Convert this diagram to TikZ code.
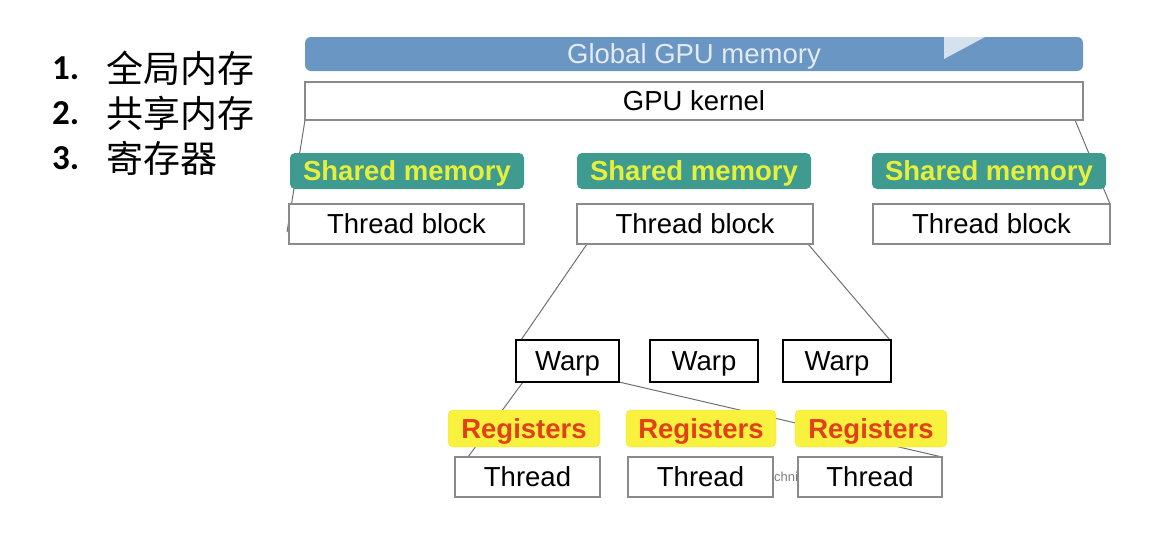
\documentclass[tikz,border=0pt]{standalone}
\usepackage{fontspec}
\setmainfont{Liberation Sans}
\newfontfamily\cjk{Noto Sans CJK SC}
\newfontfamily\numfont{Carlito}
\usetikzlibrary{calc}
\definecolor{globalblue}{HTML}{6A96C4}
\definecolor{globaltext}{HTML}{E4EAF2}
\definecolor{playtri}{HTML}{D6E1EE}
\definecolor{teal}{HTML}{3F9B8F}
\definecolor{smtext}{HTML}{E6F03C}
\definecolor{regfill}{HTML}{F8F23E}
\definecolor{regtext}{HTML}{E2401B}
\definecolor{boxgray}{HTML}{8A8A8A}
\definecolor{linegray}{HTML}{707070}
\tikzset{
  dtext/.style={font=\fontsize{27.5}{30}\selectfont, text height=19.7pt, text depth=0pt},
  plainbox/.style={draw=boxgray, line width=1.2pt, fill=white, inner sep=0pt, dtext, text=black},
  smbox/.style={fill=teal, rounded corners=5pt, inner sep=0pt, minimum width=234pt, minimum height=36pt, dtext, font=\fontsize{27.5}{30}\selectfont\bfseries, text=smtext},
  regbox/.style={fill=regfill, draw=regfill!85!orange, rounded corners=5pt, inner sep=0pt, minimum height=37pt, dtext, font=\fontsize{27.5}{30}\selectfont\bfseries, text=regtext},
  warpbox/.style={draw=black, line width=2.6pt, fill=white, inner sep=0pt, minimum height=42pt, dtext},
  tbbox/.style={plainbox, minimum height=40pt},
  thbox/.style={plainbox, minimum width=145pt, minimum height=40pt},
  conn/.style={draw=linegray, line width=1pt},
  listnum/.style={anchor=west, inner sep=0pt, font=\numfont\bfseries\fontsize{35}{36}\selectfont},
  listcjk/.style={anchor=west, inner sep=0pt, font=\cjk\fontsize{37}{40}\selectfont},
}
\begin{document}
\begin{tikzpicture}[x=1pt,y=-1pt]
\useasboundingbox (0,0) rectangle (1151,538);
% list
\node[listnum] (n1) at (52,68) {1.};
\node[listcjk] (c1) at (106,68) {全局内存};
\node[listnum] (n2) at (52,113) {2.};
\node[listcjk] (c2) at (106,113) {共享内存};
\node[listnum] (n3) at (52,158) {3.};
\node[listcjk] (c3) at (106,158) {寄存器};
% watermark fragment
\node[inner sep=0pt, text=gray, font=\rmfamily\fontsize{13}{14}\selectfont] (wm) at (786,477) {chni};
% coordinates for connector ends
\coordinate (kl) at (305,120);
\coordinate (kr) at (1075,120);
\coordinate (tbLend) at (287,232);
\coordinate (tbRend) at (1110,204);
\coordinate (tbMl) at (587,244);
\coordinate (tbMr) at (808,244);
\coordinate (w1l) at (521,340);
\coordinate (w3r) at (890,340);
\coordinate (w1bl) at (523,382);
\coordinate (w1br) at (619,382);
\coordinate (t1l) at (468,457);
\coordinate (t3r) at (942,457);
% connectors (behind boxes)
\draw[conn] (kl) -- (tbLend);
\draw[conn] (kr) -- (tbRend);
\draw[conn] (tbMl) -- (w1l);
\draw[conn] (tbMr) -- (w3r);
\draw[conn] (w1bl) -- (t1l);
\draw[conn] (w1br) -- (t3r);
% global memory and kernel
\node[fill=globalblue, rounded corners=6pt, minimum width=778pt, minimum height=34pt, inner sep=0pt, text=globaltext, dtext] (global) at (694,54) {Global GPU memory};
\fill[playtri] (944,37) -- (985,37) -- (944,59) -- cycle;
\node[plainbox, minimum width=778pt, minimum height=38pt] (kernel) at (694,101) {GPU kernel};
% shared memory
\node[smbox] (smL) at (407,171) {Shared memory};
\node[smbox] (smM) at (694,171) {Shared memory};
\node[smbox] (smR) at (989,171) {Shared memory};
% thread blocks
\node[tbbox, minimum width=235pt] (tbL) at (406.5,224) {Thread block};
\node[tbbox, minimum width=236pt] (tbM) at (695,224) {Thread block};
\node[tbbox, minimum width=237pt] (tbR) at (991.5,224) {Thread block};
% warps
\node[warpbox, minimum width=103pt] (w1) at (567.5,361) {Warp};
\node[warpbox, minimum width=108pt] (w2) at (704,361) {Warp};
\node[warpbox, minimum width=108pt] (w3) at (837,361) {Warp};
% registers
\node[regbox, minimum width=152pt] (r1) at (524,428.5) {Registers};
\node[regbox, minimum width=150pt] (r2) at (701,428.5) {Registers};
\node[regbox, minimum width=152pt] (r3) at (871,428.5) {Registers};
% threads
\node[thbox] (t1) at (527.5,477) {Thread};
\node[thbox] (t2) at (700.5,477) {Thread};
\node[thbox, minimum width=144pt] (t3) at (870,477) {Thread};
\end{tikzpicture}
\end{document}
